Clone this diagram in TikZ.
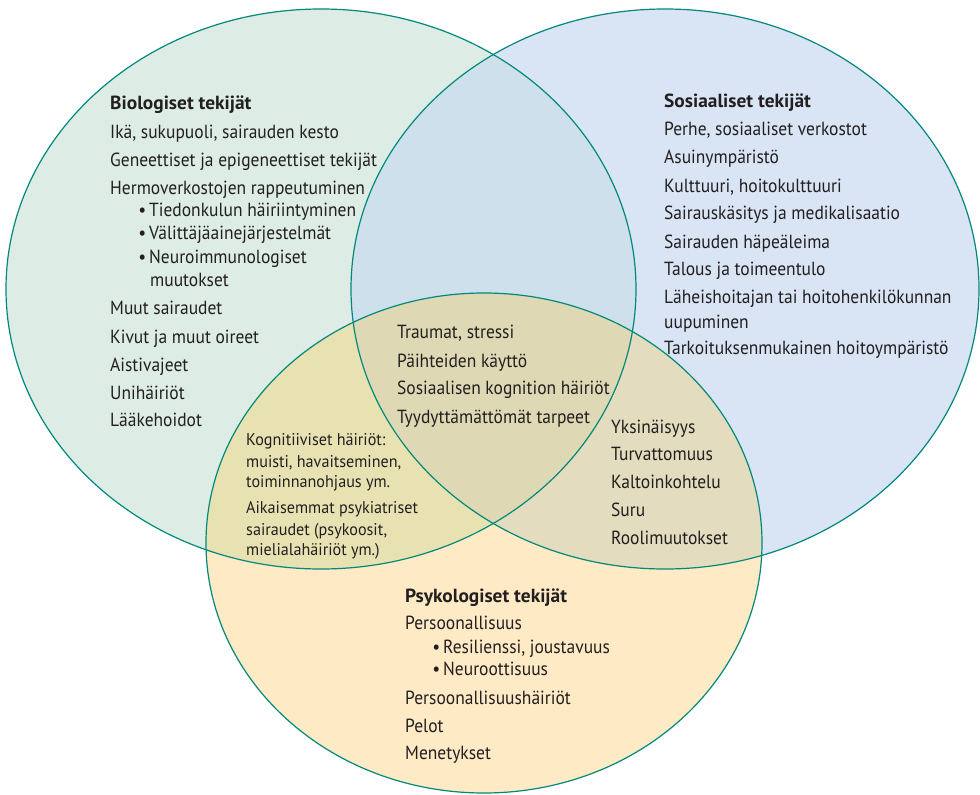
\documentclass[tikz,border=0pt]{standalone}
\usepackage{fontspec}
\setmainfont{PT Sans}[FakeStretch=0.92, BoldFeatures={FakeStretch=1.02}]
\definecolor{cG}{RGB}{221,237,229}
\definecolor{cB}{RGB}{217,228,245}
\definecolor{cY}{RGB}{254,234,196}
\definecolor{cGB}{RGB}{206,224,236}
\definecolor{cGY}{RGB}{232,226,178}
\definecolor{cBY}{RGB}{227,220,190}
\definecolor{cGBY}{RGB}{223,216,180}
\definecolor{edgec}{RGB}{0,137,123}
\definecolor{textc}{RGB}{35,31,32}
\tikzset{
  txt/.style={anchor=base west, inner sep=0pt, text=textc, font=\fontsize{19}{21}\selectfont},
  stxt/.style={anchor=base west, inner sep=0pt, text=textc, font=\fontsize{17}{19}\addfontfeatures{FakeStretch=0.95}\selectfont},
  ttl/.style={txt, font=\fontsize{19}{21}\selectfont\bfseries},
  ring/.style={draw=edgec, line width=1.2pt}
}
\newcommand\blt{\makebox[0pt][r]{•\hspace{3pt}}}
\begin{document}
\begin{tikzpicture}[x=1pt,y=-1pt]
\useasboundingbox (0,0) rectangle (980,795);
\fill[white] (0,0) rectangle (980,795);
% base fills
\fill[cG] (321,289) ellipse [x radius=315pt, y radius=280pt];
\fill[cB] (665,289) ellipse [x radius=314pt, y radius=280pt];
\fill[cY] (484,543) ellipse [x radius=278pt, y radius=250pt];
% overlaps
\begin{scope}
  \clip (321,289) ellipse [x radius=315pt, y radius=280pt];
  \fill[cGB] (665,289) ellipse [x radius=314pt, y radius=280pt];
  \fill[cGY] (484,543) ellipse [x radius=278pt, y radius=250pt];
\end{scope}
\begin{scope}
  \clip (665,289) ellipse [x radius=314pt, y radius=280pt];
  \fill[cBY] (484,543) ellipse [x radius=278pt, y radius=250pt];
\end{scope}
\begin{scope}
  \clip (321,289) ellipse [x radius=315pt, y radius=280pt];
  \clip (665,289) ellipse [x radius=314pt, y radius=280pt];
  \fill[cGBY] (484,543) ellipse [x radius=278pt, y radius=250pt];
\end{scope}
% outlines
\draw[ring] (321,289) ellipse [x radius=315pt, y radius=280pt];
\draw[ring] (665,289) ellipse [x radius=314pt, y radius=280pt];
\draw[ring] (484,543) ellipse [x radius=278pt, y radius=250pt];

% Biologiset
\node[ttl] (b0) at (110,109) {Biologiset tekijät};
\node[txt] (b1) at (110,138) {Ikä, sukupuoli, sairauden kesto};
\node[txt] (b2) at (110,166) {Geneettiset ja epigeneettiset tekijät};
\node[txt] (b3) at (110,194) {Hermoverkostojen rappeutuminen};
\node[txt] (b4) at (149,216) {\blt Tiedonkulun häiriintyminen};
\node[txt] (b5) at (149,239) {\blt Välittäjäainejärjestelmät};
\node[txt] (b6) at (149,263) {\blt Neuroimmunologiset};
\node[txt] (b7) at (150,286) {muutokset};
\node[txt] (b8) at (110,314) {Muut sairaudet};
\node[txt] (b9) at (110,343) {Kivut ja muut oireet};
\node[txt] (b10) at (110,371) {Aistivajeet};
\node[txt] (b11) at (110,399) {Unihäiriöt};
\node[txt] (b12) at (110,426) {Lääkehoidot};

% Sosiaaliset
\node[ttl] (s0) at (664,107) {Sosiaaliset tekijät};
\node[txt] (s1) at (664,135) {Perhe, sosiaaliset verkostot};
\node[txt] (s2) at (664,163) {Asuinympäristö};
\node[txt] (s3) at (664,192) {Kulttuuri, hoitokulttuuri};
\node[txt] (s4) at (664,219) {Sairauskäsitys ja medikalisaatio};
\node[txt] (s5) at (664,248) {Sairauden häpeäleima};
\node[txt] (s6) at (664,275) {Talous ja toimeentulo};
\node[txt] (s7) at (664,303) {Läheishoitajan tai hoitohenkilökunnan};
\node[txt] (s8) at (664,328) {uupuminen};
\node[txt] (s9) at (664,354) {Tarkoituksenmukainen hoitoympäristö};

% Centre
\node[txt] (c1) at (397,338) {Traumat, stressi};
\node[txt] (c2) at (397,367) {Päihteiden käyttö};
\node[txt] (c3) at (397,394) {Sosiaalisen kognition häiriöt};
\node[txt] (c4) at (397,423) {Tyydyttämättömät tarpeet};

% Bio & Psyk
\node[stxt] (g1) at (246,445) {Kognitiiviset häiriöt:};
\node[stxt] (g2) at (246,467) {muisti, havaitseminen,};
\node[stxt] (g3) at (246,487) {toiminnanohjaus ym.};
\node[stxt] (g4) at (246,513) {Aikaisemmat psykiatriset};
\node[stxt] (g5) at (246,535) {sairaudet (psykoosit,};
\node[stxt] (g6) at (246,555) {mielialahäiriöt ym.)};

% Sos & Psyk
\node[txt] (r1) at (611,433) {Yksinäisyys};
\node[txt] (r2) at (611,460) {Turvattomuus};
\node[txt] (r3) at (611,488) {Kaltoinkohtelu};
\node[txt] (r4) at (611,516) {Suru};
\node[txt] (r5) at (611,544) {Roolimuutokset};

% Psykologiset
\node[ttl] (p0) at (405,602) {Psykologiset tekijät};
\node[txt] (p1) at (405,629) {Persoonallisuus};
\node[txt] (p2) at (443,653) {\blt Resilienssi, joustavuus};
\node[txt] (p3) at (443,675) {\blt Neuroottisuus};
\node[txt] (p4) at (405,704) {Persoonallisuushäiriöt};
\node[txt] (p5) at (405,732) {Pelot};
\node[txt] (p6) at (405,759) {Menetykset};
\end{tikzpicture}
\end{document}
